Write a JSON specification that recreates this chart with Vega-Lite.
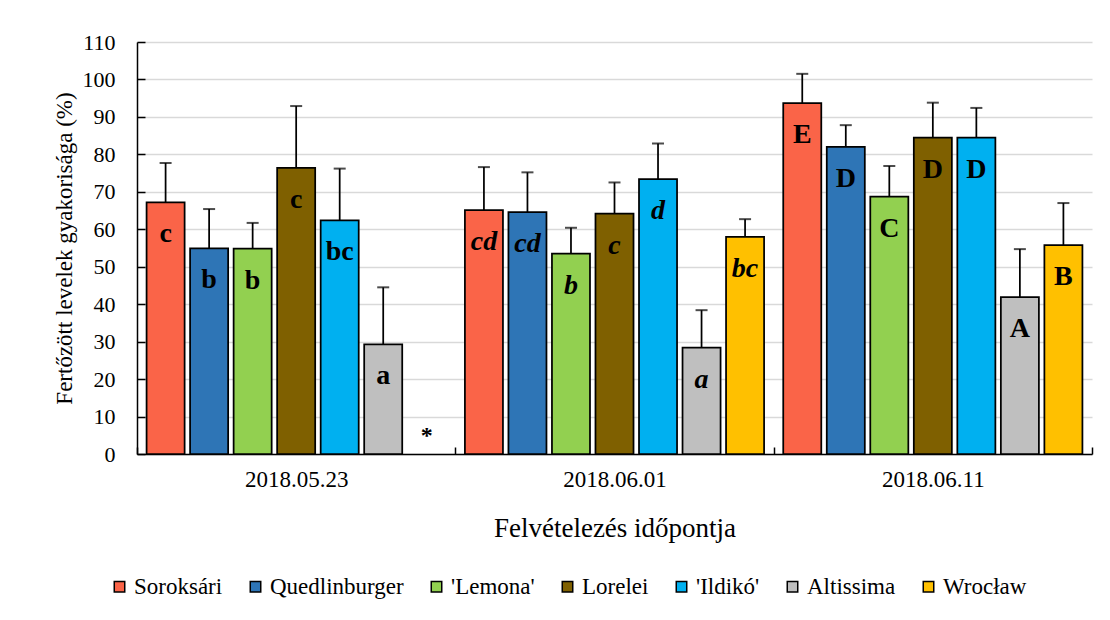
{
  "$schema": "https://vega.github.io/schema/vega-lite/v6.json",
  "width": 955,
  "height": 412,
  "autosize": {"type": "none"},
  "padding": {"left": 137, "top": 42, "right": 18, "bottom": 166},
  "background": "white",
  "config": {
    "view": {"stroke": null},
    "font": "Liberation Serif",
    "axis": {"labelFont": "Liberation Serif", "titleFont": "Liberation Serif", "labelColor": "black", "titleColor": "black", "titleFontWeight": "normal"},
    "axisY": {
      "values": [0, 10, 20, 30, 40, 50, 60, 70, 80, 90, 100, 110],
      "labelFontSize": 22, "titleFontSize": 23,
      "grid": true, "gridColor": "#d9d9d9", "gridWidth": 1.5,
      "tickSize": -8, "tickColor": "black", "tickWidth": 1.5,
      "domainColor": "black", "domainWidth": 1.5,
      "labelPadding": 30, "titlePadding": 6
    },
    "legend": {"labelFont": "Liberation Serif"}
  },
  "datasets": {
    "bars": [
      {"date": "2018.05.23", "variety": "Soroksári", "value": 67.2, "upper": 77.7, "label": "c"},
      {"date": "2018.05.23", "variety": "Quedlinburger", "value": 54.9, "upper": 65.4, "label": "b"},
      {"date": "2018.05.23", "variety": "'Lemona'", "value": 54.8, "upper": 61.7, "label": "b"},
      {"date": "2018.05.23", "variety": "Lorelei", "value": 76.4, "upper": 92.9, "label": "c"},
      {"date": "2018.05.23", "variety": "'Ildikó'", "value": 62.4, "upper": 76.2, "label": "bc"},
      {"date": "2018.05.23", "variety": "Altissima", "value": 29.3, "upper": 44.5, "label": "a"},
      {"date": "2018.06.01", "variety": "Soroksári", "value": 65.1, "upper": 76.6, "label": "cd"},
      {"date": "2018.06.01", "variety": "Quedlinburger", "value": 64.6, "upper": 75.2, "label": "cd"},
      {"date": "2018.06.01", "variety": "'Lemona'", "value": 53.5, "upper": 60.4, "label": "b"},
      {"date": "2018.06.01", "variety": "Lorelei", "value": 64.2, "upper": 72.5, "label": "c"},
      {"date": "2018.06.01", "variety": "'Ildikó'", "value": 73.4, "upper": 82.9, "label": "d"},
      {"date": "2018.06.01", "variety": "Altissima", "value": 28.4, "upper": 38.4, "label": "a"},
      {"date": "2018.06.01", "variety": "Wrocław", "value": 58.0, "upper": 62.7, "label": "bc"},
      {"date": "2018.06.11", "variety": "Soroksári", "value": 93.7, "upper": 101.5, "label": "E"},
      {"date": "2018.06.11", "variety": "Quedlinburger", "value": 82.0, "upper": 87.8, "label": "D"},
      {"date": "2018.06.11", "variety": "'Lemona'", "value": 68.7, "upper": 76.9, "label": "C"},
      {"date": "2018.06.11", "variety": "Lorelei", "value": 84.5, "upper": 93.8, "label": "D"},
      {"date": "2018.06.11", "variety": "'Ildikó'", "value": 84.5, "upper": 92.4, "label": "D"},
      {"date": "2018.06.11", "variety": "Altissima", "value": 41.9, "upper": 54.7, "label": "A"},
      {"date": "2018.06.11", "variety": "Wrocław", "value": 55.8, "upper": 67.0, "label": "B"}
    ],
    "star": [
      {"date": "2018.05.23", "variety": "Wrocław", "pos": 2.9, "label": "*"}
    ]
  },
  "data": {"name": "bars"},
  "encoding": {
    "x": {
      "field": "date", "type": "nominal", "sort": null,
      "scale": {"paddingInner": 0, "paddingOuter": 0},
      "title": "Felvételezés időpontja",
      "axis": {
        "labelAngle": 0, "labelFontSize": 23, "titleFontSize": 27,
        "tickBand": "extent", "tickSize": -7, "tickColor": "black", "tickWidth": 1.5,
        "domainColor": "black", "domainWidth": 1.5,
        "labelPadding": 21, "titlePadding": 24
      }
    },
    "xOffset": {
      "field": "variety", "type": "nominal", "sort": null,
      "scale": {
        "domain": ["Soroksári", "Quedlinburger", "'Lemona'", "Lorelei", "'Ildikó'", "Altissima", "Wrocław"],
        "paddingInner": 0.126, "paddingOuter": 0.22
      }
    }
  },
  "layer": [
    {
      "mark": {"type": "bar", "stroke": "black", "strokeWidth": 1.75},
      "encoding": {
        "y": {
          "field": "value", "type": "quantitative",
          "scale": {"domain": [0, 110], "nice": false},
          "title": "Fertőzött levelek gyakorisága (%)"
        },
        "color": {
          "field": "variety", "type": "nominal",
          "scale": {
            "domain": ["Soroksári", "Quedlinburger", "'Lemona'", "Lorelei", "'Ildikó'", "Altissima", "Wrocław"],
            "range": ["#FA6448", "#2E75B6", "#92D050", "#7F6000", "#00B0F0", "#BFBFBF", "#FFC000"]
          },
          "legend": {
            "title": null, "orient": "none", "direction": "horizontal", "columns": 7,
            "legendX": -29, "legendY": 533,
            "symbolType": "square", "symbolSize": 110, "symbolStrokeColor": "black", "symbolStrokeWidth": 1.5,
            "labelFontSize": 23, "labelColor": "black", "labelOffset": 3, "columnPadding": 21, "labelLimit": 0
          }
        }
      }
    },
    {
      "mark": {"type": "rule", "color": "black", "strokeWidth": 1.75},
      "encoding": {
        "y": {"field": "value", "type": "quantitative", "title": "Fertőzött levelek gyakorisága (%)"},
        "y2": {"field": "upper"}
      }
    },
    {
      "mark": {"type": "tick", "color": "black", "thickness": 2, "size": 12},
      "encoding": {
        "y": {"field": "upper", "type": "quantitative", "title": "Fertőzött levelek gyakorisága (%)"}
      }
    },
    {
      "transform": [{"filter": "datum.date !== '2018.06.01'"}],
      "mark": {"type": "text", "fontSize": 28, "fontWeight": "bold", "color": "black", "baseline": "alphabetic", "align": "center", "dy": 40},
      "encoding": {
        "y": {"field": "value", "type": "quantitative", "title": "Fertőzött levelek gyakorisága (%)"},
        "text": {"field": "label"}
      }
    },
    {
      "transform": [{"filter": "datum.date === '2018.06.01'"}],
      "mark": {"type": "text", "fontSize": 28, "fontWeight": "bold", "fontStyle": "italic", "color": "black", "baseline": "alphabetic", "align": "center", "dy": 40},
      "encoding": {
        "y": {"field": "value", "type": "quantitative", "title": "Fertőzött levelek gyakorisága (%)"},
        "text": {"field": "label"}
      }
    },
    {
      "data": {"name": "star"},
      "mark": {"type": "text", "fontSize": 24, "fontWeight": "bold", "color": "black", "baseline": "alphabetic", "align": "center"},
      "encoding": {
        "y": {"field": "pos", "type": "quantitative", "title": "Fertőzött levelek gyakorisága (%)"},
        "text": {"field": "label"}
      }
    }
  ]
}
